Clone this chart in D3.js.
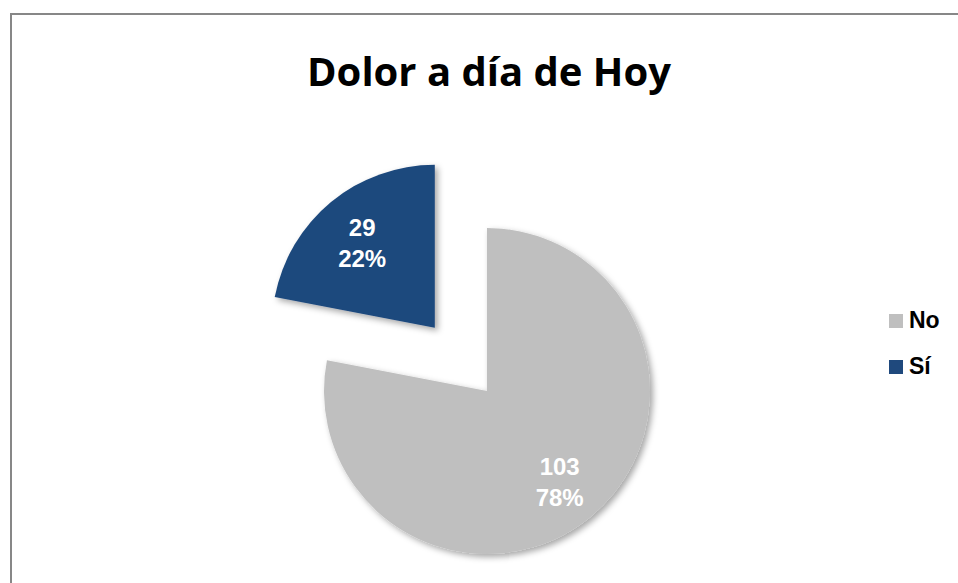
<!DOCTYPE html>
<html>
<head>
<meta charset="utf-8">
<script src="https://cdn.jsdelivr.net/npm/d3@7"></script>
<style>
  html, body { margin: 0; padding: 0; background: #fff; }
  svg { display: block; }
</style>
</head>
<body>
<svg id="chart" width="958" height="583"></svg>
<script>
// Survey answers: pain today
const categories = ["No", "Sí"];
const counts = [103, 29];
const colors = ["#BFBFBF", "#1F497D"];
const title = "Dolor a día de Hoy";

const svg = d3.select("#chart");
const W = 958, H = 583;

// chart frame
svg.append("rect")
  .attr("x", 11).attr("y", 14)
  .attr("width", W + 10).attr("height", H + 10)
  .attr("fill", "#fff")
  .attr("stroke", "#878787")
  .attr("stroke-width", 2);

// title
svg.append("text")
  .attr("x", 489).attr("y", 86)
  .attr("text-anchor", "middle")
  .attr("font-family", "'Open Sans', sans-serif")
  .attr("font-weight", 700)
  .attr("font-size", 40)
  .attr("fill", "#000")
  .text(title);

// soft drop shadow under the slices
const defs = svg.append("defs");
const f = defs.append("filter").attr("id", "shadow")
  .attr("x", "-20%").attr("y", "-20%").attr("width", "140%").attr("height", "140%");
f.append("feDropShadow")
  .attr("dx", 3).attr("dy", 3)
  .attr("stdDeviation", 3)
  .attr("flood-color", "#000")
  .attr("flood-opacity", 0.35);

const cx = 487, cy = 391, r = 163;
const explode = 82;   // offset of the pulled-out slice
const total = d3.sum(counts);

const pie = d3.pie().sort(null).value(d => d.value);
const data = pie(categories.map((c, i) => ({ name: c, value: counts[i], color: colors[i] })));
const arc = d3.arc().innerRadius(0).outerRadius(r);
const labelArc = d3.arc().innerRadius(r * 0.7).outerRadius(r * 0.7);

const g = svg.append("g").attr("transform", `translate(${cx},${cy})`);

const slice = g.selectAll("g.slice").data(data).enter().append("g")
  .attr("class", "slice")
  .attr("transform", d => {
    if (d.data.name !== "Sí") return null;
    const a = (d.startAngle + d.endAngle) / 2;
    return `translate(${Math.sin(a) * explode},${-Math.cos(a) * explode})`;
  });

slice.append("path")
  .attr("d", arc)
  .attr("fill", d => d.data.color)
  .attr("filter", "url(#shadow)");

const fmtPct = d => Math.round(d.value / total * 100) + "%";

const lbl = slice.append("text")
  .attr("transform", d => `translate(${labelArc.centroid(d)})`)
  .attr("text-anchor", "middle")
  .attr("font-family", "Arial, 'Liberation Sans', sans-serif")
  .attr("font-weight", 700)
  .attr("font-size", 24)
  .attr("fill", "#fff");
lbl.append("tspan").attr("x", 0).attr("y", -4).text(d => d.data.value);
lbl.append("tspan").attr("x", 0).attr("y", 27).text(d => fmtPct(d));

// legend
const legend = svg.append("g").attr("transform", "translate(889,314)");
const item = legend.selectAll("g").data(categories).enter().append("g")
  .attr("transform", (d, i) => `translate(0,${i * 46})`);
item.append("rect")
  .attr("width", 14).attr("height", 14)
  .attr("fill", (d, i) => colors[i]);
item.append("text")
  .attr("x", 20).attr("y", 14)
  .attr("font-family", "Arial, 'Liberation Sans', sans-serif")
  .attr("font-weight", 700)
  .attr("font-size", 23)
  .attr("fill", "#000")
  .text(d => d);
</script>
</body>
</html>
